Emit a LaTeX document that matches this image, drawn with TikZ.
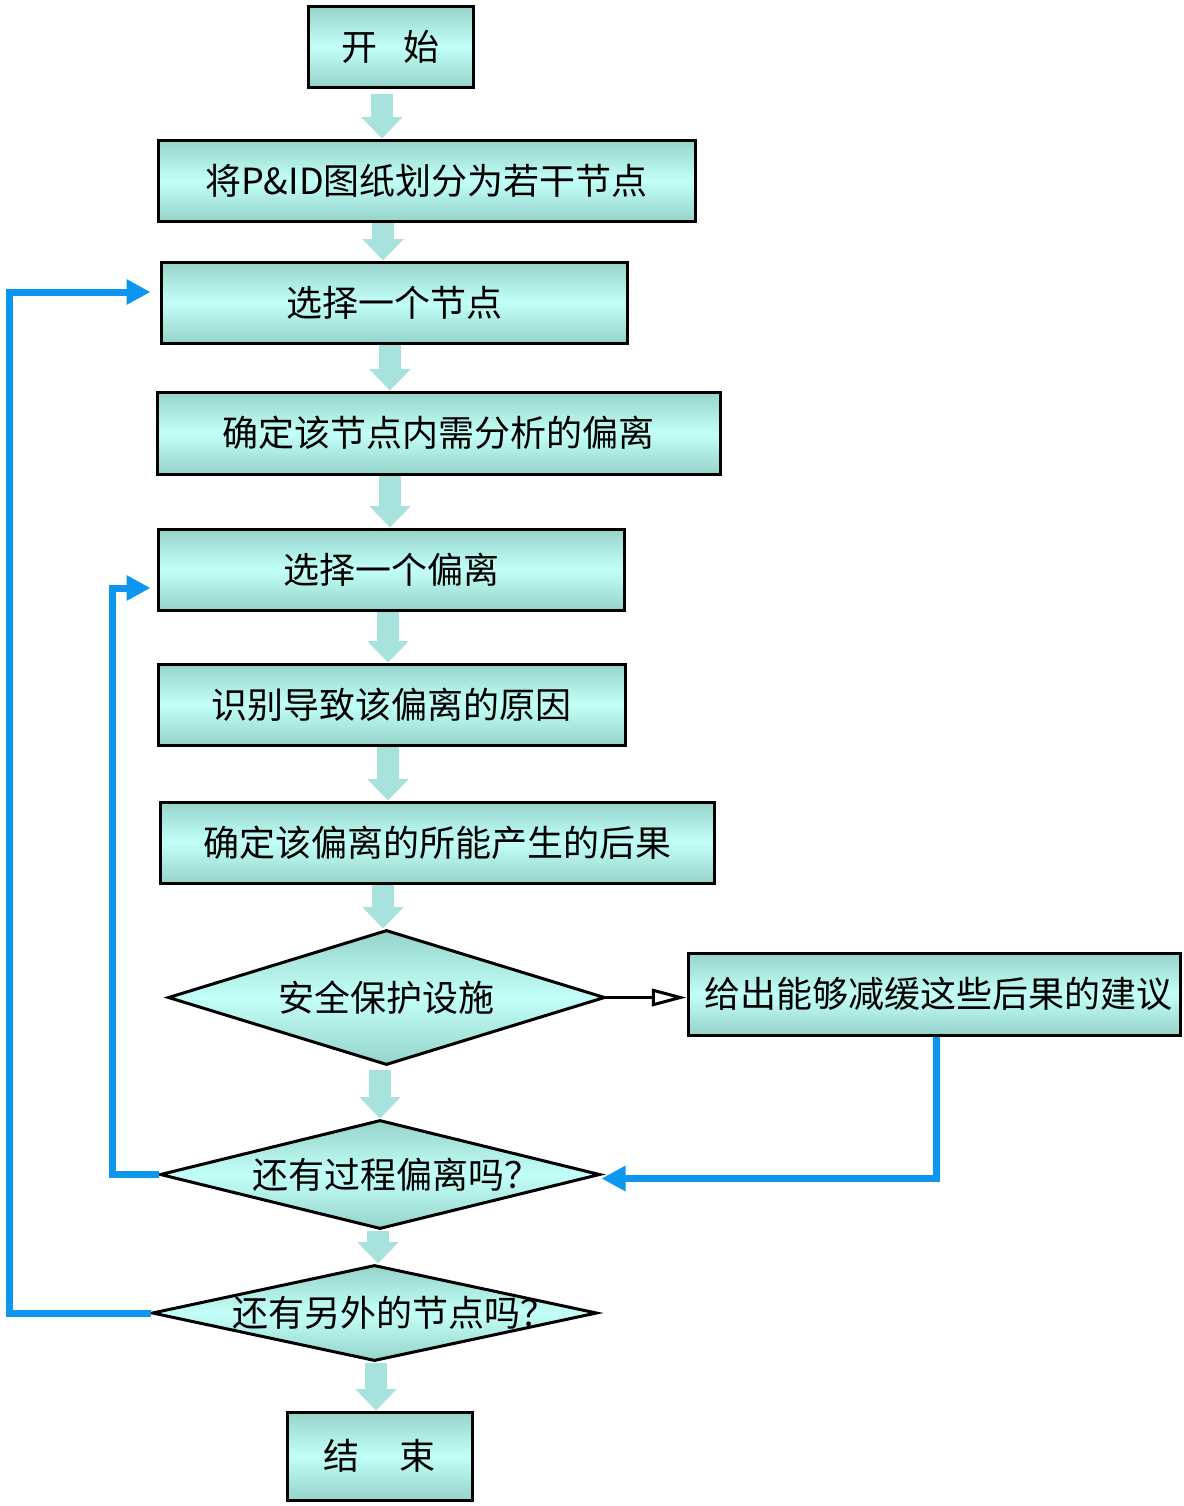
\documentclass[tikz,border=0pt]{standalone}
\usepackage{fontspec}
\setmainfont{Noto Sans CJK SC}
\usepackage{xcolor}
\usepackage{tikz}
\usetikzlibrary{shapes.geometric,arrows.meta,calc}

\definecolor{boxdark}{RGB}{150,212,202}
\definecolor{boxlight}{RGB}{194,255,248}
\definecolor{flowteal}{RGB}{168,226,220}
\definecolor{loopblue}{RGB}{12,150,240}

\tikzset{
  procbox/.style={draw=black, line width=2.25pt, rectangle, inner sep=0pt,
    top color=boxdark, bottom color=boxdark, middle color=boxlight,
    minimum height=60.75pt, font=\fontsize{27}{32}\selectfont},
  decide/.style={draw=black, line width=2.25pt, diamond, inner sep=0pt, aspect=1,
    top color=boxdark, bottom color=boxdark, middle color=boxlight,
    font=\fontsize{27}{32}\selectfont},
  flow/.style={draw=flowteal, line width=16pt,
    -{Triangle[length=16pt 0 0, width=30pt 0 0]}},
  backloop/.style={draw=loopblue, line width=5.25pt, line join=miter,
    -{Triangle[length=18pt 0 0, width=18pt 0 0]}},
  yesline/.style={draw=black, line width=2.25pt,
    -{Triangle[open, length=26pt 0 0, width=13pt 0 0]}}
}

\begin{document}
\begin{tikzpicture}[x=0.75pt,y=0.75pt,yscale=-1,xscale=1]
	\useasboundingbox (0,0) rectangle (1184,1506);
	
	% boxes
	\node[procbox, minimum width=123.75pt] (start) at (390.5,46.5) {\raisebox{-3pt}{开\hspace{0.7em}始}};
	\node[procbox, minimum width=402.75pt] (split) at (426.5,180.5) {\raisebox{-3pt}{将P\&ID图纸划分为若干节点}};
	\node[procbox, minimum width=349.5pt] (pick) at (394,302.5) {\raisebox{-3pt}{选择一个节点}};
	\node[procbox, minimum width=422.25pt, minimum height=61.5pt] (find) at (438.5,433) {\raisebox{-3pt}{确定该节点内需分析的偏离}};
	\node[procbox, minimum width=349.5pt] (dev) at (391,569.5) {\raisebox{-3pt}{选择一个偏离}};
	\node[procbox, minimum width=350.25pt] (cause) at (391.5,704.5) {\raisebox{-3pt}{识别导致该偏离的原因}};
	\node[procbox, minimum width=415.5pt] (result) at (437,842.5) {\raisebox{-3pt}{确定该偏离的所能产生的后果}};
	\node[procbox, minimum width=369pt, minimum height=61.5pt] (advice) at (934,994) {\hspace{6pt}给出能够减缓这些后果的建议};
	\node[procbox, minimum width=138.75pt, minimum height=66pt] (stop) at (379.5,1456) {结\hspace{1.1em}束};
	
	% diamonds
	\node[decide, minimum width=327.75pt, minimum height=101.25pt] (guard) at (386.5,997.5) {\makebox[0pt]{安全保护设施}};
	\node[decide, minimum width=330pt, minimum height=81.75pt] (moredev) at (380,1174.5) {\makebox[0pt]{\hspace{24pt}还有过程偏离吗？}};
	\node[decide, minimum width=333.75pt, minimum height=72pt] (morenode) at (374.5,1313) {\makebox[0pt]{\hspace{30pt}还有另外的节点吗？}};
	
	% main flow
	\draw[flow] ($(start.south)+(-8.5,5)$) -- ($(split.north)+(-44.5,0)$);
	\draw[flow] ($(split.south)+(-43.5,0)$) -- ($(pick.north)+(-11,0)$);
	\draw[flow] ($(pick.south)+(-4,0)$) -- ($(find.north)+(-48.5,0)$);
	\draw[flow] ($(find.south)+(-48.5,0)$) -- ($(dev.north)+(-1,0)$);
	\draw[flow] ($(dev.south)+(-3,0)$) -- ($(cause.north)+(-3.5,0)$);
	\draw[flow] ($(cause.south)+(-3.5,0)$) -- ($(result.north)+(-49,0)$);
	\draw[flow] ($(result.south)+(-54,0)$) -- ($(guard.north)+(-3.5,0)$);
	\draw[flow] ($(guard.south)+(-6.5,3)$) -- ($(moredev.north)+(0,0)$);
	\draw[flow] ($(moredev.south)+(-2,0)$) -- ($(morenode.north)+(3.5,0)$);
	\draw[flow] ($(morenode.south)+(1.5,0)$) -- ($(stop.north)+(-3.5,0)$);
	
	% guard -> advice
	\draw[yesline] ($(guard.east)+(-8,0)$) -- (guard.east -| advice.west);
	
	% loops back
	\coordinate (nodeturn) at (9,292);
	\coordinate (devturn) at (112,588);
	\draw[backloop] (morenode.west) -| (nodeturn) -- ($(pick.west)+(-9,-10.5)$);
	\draw[backloop] (moredev.west) -| (devturn) -- ($(dev.west)+(-6,18.5)$);
	\draw[backloop] ($(advice.south)+(2,0)$) |- ($(moredev.east)+(0,4)$);
	\end{tikzpicture}
\end{document}
